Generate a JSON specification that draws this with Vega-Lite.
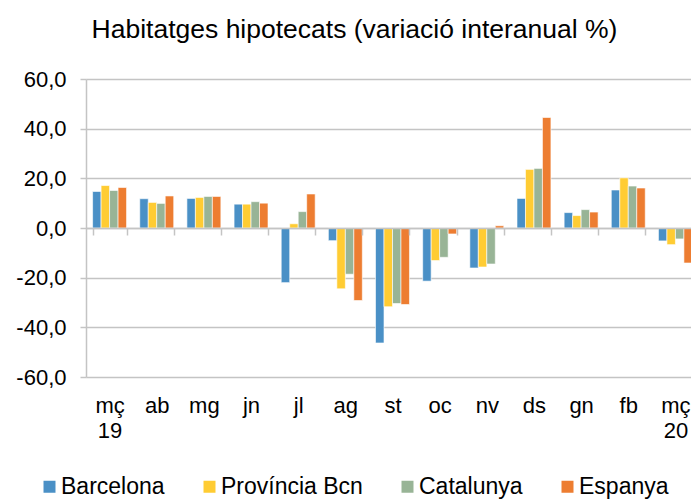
{
  "$schema": "https://vega.github.io/schema/vega-lite/v6.json",
  "autosize": "none",
  "width": 605,
  "height": 298,
  "padding": {"left": 86, "top": 79, "right": 0, "bottom": 122},
  "background": "white",
  "title": {
    "text": "Habitatges hipotecats (variació interanual %)",
    "anchor": "middle",
    "frame": "group",
    "dx": -34,
    "offset": 4,
    "baseline": "alphabetic",
    "font": "Liberation Sans",
    "fontSize": 26.5,
    "fontWeight": "normal",
    "color": "#000000"
  },
  "data": {
    "values": [
      {"m": "mç 19", "s": "Barcelona", "v": 14.7}, {"m": "mç 19", "s": "Província Bcn", "v": 17.1}, {"m": "mç 19", "s": "Catalunya", "v": 15.1}, {"m": "mç 19", "s": "Espanya", "v": 16.3},
      {"m": "ab", "s": "Barcelona", "v": 11.8}, {"m": "ab", "s": "Província Bcn", "v": 10.3}, {"m": "ab", "s": "Catalunya", "v": 9.9}, {"m": "ab", "s": "Espanya", "v": 12.9},
      {"m": "mg", "s": "Barcelona", "v": 11.9}, {"m": "mg", "s": "Província Bcn", "v": 12.3}, {"m": "mg", "s": "Catalunya", "v": 12.7}, {"m": "mg", "s": "Espanya", "v": 12.7},
      {"m": "jn", "s": "Barcelona", "v": 9.6}, {"m": "jn", "s": "Província Bcn", "v": 9.6}, {"m": "jn", "s": "Catalunya", "v": 10.6}, {"m": "jn", "s": "Espanya", "v": 10.0},
      {"m": "jl", "s": "Barcelona", "v": -22.0}, {"m": "jl", "s": "Província Bcn", "v": 1.7}, {"m": "jl", "s": "Catalunya", "v": 6.6}, {"m": "jl", "s": "Espanya", "v": 13.7},
      {"m": "ag", "s": "Barcelona", "v": -5.1}, {"m": "ag", "s": "Província Bcn", "v": -24.5}, {"m": "ag", "s": "Catalunya", "v": -18.6}, {"m": "ag", "s": "Espanya", "v": -29.2},
      {"m": "st", "s": "Barcelona", "v": -46.3}, {"m": "st", "s": "Província Bcn", "v": -31.7}, {"m": "st", "s": "Catalunya", "v": -30.4}, {"m": "st", "s": "Espanya", "v": -30.8},
      {"m": "oc", "s": "Barcelona", "v": -21.4}, {"m": "oc", "s": "Província Bcn", "v": -13.1}, {"m": "oc", "s": "Catalunya", "v": -11.8}, {"m": "oc", "s": "Espanya", "v": -2.4},
      {"m": "nv", "s": "Barcelona", "v": -16.1}, {"m": "nv", "s": "Província Bcn", "v": -15.7}, {"m": "nv", "s": "Catalunya", "v": -14.5}, {"m": "nv", "s": "Espanya", "v": 0.9},
      {"m": "ds", "s": "Barcelona", "v": 11.9}, {"m": "ds", "s": "Província Bcn", "v": 23.6}, {"m": "ds", "s": "Catalunya", "v": 24.0}, {"m": "ds", "s": "Espanya", "v": 44.5},
      {"m": "gn", "s": "Barcelona", "v": 6.2}, {"m": "gn", "s": "Província Bcn", "v": 5.0}, {"m": "gn", "s": "Catalunya", "v": 7.4}, {"m": "gn", "s": "Espanya", "v": 6.4},
      {"m": "fb", "s": "Barcelona", "v": 15.3}, {"m": "fb", "s": "Província Bcn", "v": 20.2}, {"m": "fb", "s": "Catalunya", "v": 16.9}, {"m": "fb", "s": "Espanya", "v": 16.1},
      {"m": "mç 20", "s": "Barcelona", "v": -5.2}, {"m": "mç 20", "s": "Província Bcn", "v": -6.7}, {"m": "mç 20", "s": "Catalunya", "v": -4.4}, {"m": "mç 20", "s": "Espanya", "v": -14.1}
    ]
  },
  "mark": {"type": "bar", "stroke": "white", "strokeWidth": 0.6},
  "encoding": {
    "x": {
      "field": "m",
      "type": "nominal",
      "sort": ["mç 19", "ab", "mg", "jn", "jl", "ag", "st", "oc", "nv", "ds", "gn", "fb", "mç 20"],
      "scale": {"range": [0, 613], "paddingInner": 0.28, "paddingOuter": 0.14},
      "axis": {
        "title": null,
        "orient": "bottom",
        "offset": -149,
        "domainColor": "#c4c4c4",
        "domainWidth": 1.5,
        "tickColor": "#c4c4c4",
        "tickWidth": 1.5,
        "tickSize": 7,
        "tickBand": "extent",
        "labelAngle": 0,
        "labelPadding": 160,
        "labelBaseline": "top",
        "labelLineHeight": 25,
        "labelExpr": "split(datum.label, ' ')",
        "labelFont": "Liberation Sans",
        "labelFontSize": 22,
        "labelColor": "#000000",
        "zindex": 1
      }
    },
    "xOffset": {
      "field": "s",
      "type": "nominal",
      "sort": ["Barcelona", "Província Bcn", "Catalunya", "Espanya"],
      "scale": {"paddingInner": 0, "paddingOuter": 0}
    },
    "y": {
      "field": "v",
      "type": "quantitative",
      "scale": {"domain": [-60, 60], "nice": false, "zero": false},
      "axis": {
        "title": null,
        "values": [-60, -40, -20, 0, 20, 40, 60],
        "labelExpr": "(datum.value < 0 ? '-' : '') + replace(format(abs(datum.value), '.1f'), '.', ',')",
        "labelFont": "Liberation Sans",
        "labelFontSize": 22,
        "labelColor": "#000000",
        "labelPadding": 14,
        "domainColor": "#c4c4c4",
        "domainWidth": 1.5,
        "tickColor": "#c4c4c4",
        "tickWidth": 1.5,
        "tickSize": 6,
        "gridColor": "#c4c4c4",
        "gridWidth": 1.5
      }
    },
    "color": {
      "field": "s",
      "type": "nominal",
      "sort": ["Barcelona", "Província Bcn", "Catalunya", "Espanya"],
      "scale": {
        "domain": ["Barcelona", "Província Bcn", "Catalunya", "Espanya"],
        "range": ["#4A90C6", "#FFCC33", "#98B496", "#ED7D31"]
      },
      "legend": {
        "title": null,
        "orient": "none",
        "legendX": -48,
        "legendY": 396,
        "direction": "horizontal",
        "columns": 4,
        "columnPadding": 33,
        "symbolType": "square",
        "symbolSize": 144,
        "symbolStrokeWidth": 0,
        "labelOffset": 0,
        "labelFont": "Liberation Sans",
        "labelFontSize": 23,
        "labelColor": "#000000"
      }
    }
  },
  "config": {
    "view": {"stroke": null},
    "axis": {"gridDash": []}
  }
}
